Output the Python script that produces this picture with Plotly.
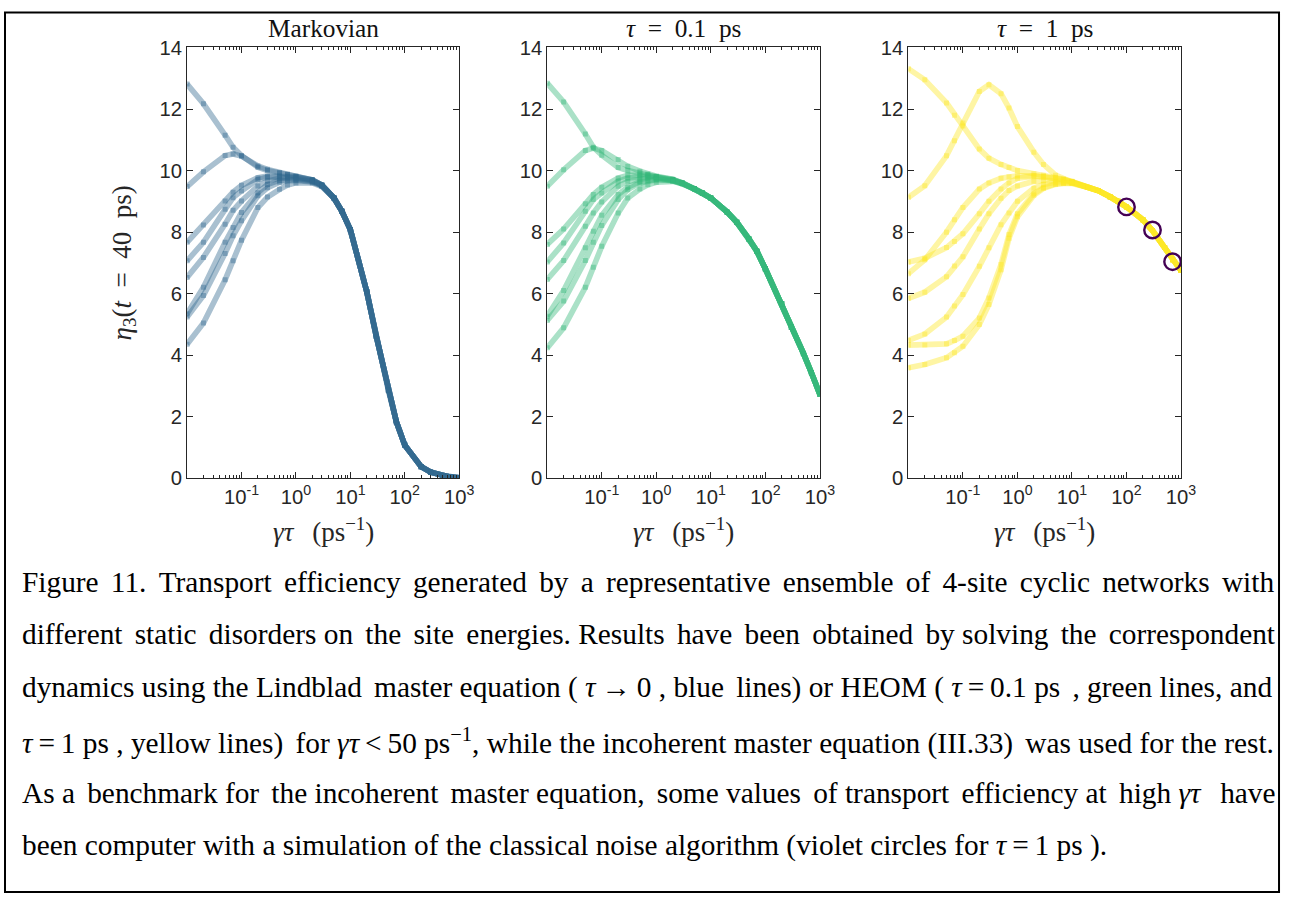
import plotly.graph_objects as go

# The captured picture maps page pixels (x, y) to (SX*x, BY + SY*y);
# positions below are given in picture pixels and converted with px_x / px_y.
SX, SY, BY = 0.988, 0.976, 10.5
PW, PH = 1296, 905

# ---------------- data ----------------
gamma_tau = [0.01, 0.02, 0.05, 0.07, 0.1, 0.2, 0.3, 0.5, 0.7, 1, 2, 3, 5, 7,
             10, 20, 30, 50, 70, 100, 200, 300, 500, 700, 1000]

# Markovian: individual parts for gamma*tau = 0.01 .. 3, shared part 5 .. 1000
markov_heads = [
    [12.81, 12.17, 11.15, 10.76, 10.49, 10.11, 10.00, 9.92, 9.87, 9.82, 9.70, 9.53],
    [9.48, 9.96, 10.49, 10.54, 10.47, 10.15, 10.04, 9.93, 9.88, 9.82, 9.70, 9.53],
    [7.67, 8.23, 9.01, 9.30, 9.52, 9.77, 9.82, 9.83, 9.82, 9.80, 9.70, 9.53],
    [7.07, 7.67, 8.74, 9.12, 9.34, 9.71, 9.79, 9.80, 9.79, 9.77, 9.68, 9.52],
    [6.53, 7.18, 8.26, 8.71, 9.01, 9.50, 9.66, 9.75, 9.76, 9.75, 9.67, 9.52],
    [5.35, 6.21, 7.67, 8.15, 8.64, 9.28, 9.55, 9.68, 9.71, 9.71, 9.65, 9.51],
    [5.24, 5.94, 7.31, 7.88, 8.37, 9.18, 9.44, 9.62, 9.67, 9.68, 9.63, 9.50],
    [4.36, 5.05, 6.45, 7.07, 7.74, 8.80, 9.14, 9.39, 9.53, 9.60, 9.60, 9.48],
]
markov_tail = [9.11, 8.68, 8.08, 6.07, 4.61, 2.87, 1.84, 1.08, 0.38, 0.20, 0.09, 0.04, 0.02]

# tau = 0.1 ps: individual parts for 0.01 .. 3, shared part 5 .. 1000
tau01_heads = [
    [12.84, 12.23, 11.19, 10.76, 10.50, 10.10, 10.00, 9.92, 9.87, 9.80, 9.71, 9.60],
    [9.49, 10.03, 10.65, 10.73, 10.65, 10.36, 10.14, 9.98, 9.89, 9.82, 9.72, 9.60],
    [7.60, 8.10, 8.92, 9.22, 9.46, 9.76, 9.85, 9.86, 9.84, 9.80, 9.71, 9.60],
    [7.03, 7.65, 8.68, 9.06, 9.27, 9.65, 9.76, 9.80, 9.80, 9.78, 9.70, 9.60],
    [6.46, 7.08, 8.19, 8.62, 8.98, 9.49, 9.65, 9.74, 9.76, 9.76, 9.69, 9.59],
    [5.27, 6.10, 7.49, 8.03, 8.55, 9.22, 9.46, 9.64, 9.70, 9.72, 9.68, 9.58],
    [5.13, 5.76, 7.08, 7.67, 8.22, 9.06, 9.38, 9.60, 9.67, 9.70, 9.67, 9.58],
    [4.24, 4.89, 6.21, 6.86, 7.54, 8.62, 9.11, 9.40, 9.54, 9.62, 9.65, 9.57],
]
tau01_tail = [9.41, 9.27, 9.11, 8.65, 8.32, 7.78, 7.38, 6.81, 5.67, 4.91, 4.06, 3.43, 2.73]

# tau = 1 ps: individual parts for 0.01 .. 10, shared part 20 .. 1000
tau1_heads = [
    [13.31, 12.95, 12.20, 11.80, 11.45, 10.70, 10.40, 10.20, 10.10, 10.00, 9.90, 9.85, 9.78, 9.72, 9.65],
    [9.13, 9.51, 10.48, 10.97, 11.55, 12.57, 12.79, 12.50, 12.03, 11.43, 10.60, 10.20, 9.85, 9.72, 9.63],
    [7.03, 7.15, 7.50, 7.70, 7.95, 8.60, 9.00, 9.40, 9.60, 9.75, 9.82, 9.80, 9.75, 9.70, 9.63],
    [6.65, 7.10, 8.00, 8.40, 8.80, 9.40, 9.60, 9.75, 9.80, 9.83, 9.83, 9.80, 9.75, 9.70, 9.63],
    [5.85, 6.05, 6.55, 6.90, 7.20, 8.10, 8.60, 9.10, 9.35, 9.50, 9.65, 9.68, 9.68, 9.66, 9.62],
    [4.48, 4.69, 5.24, 5.60, 5.97, 6.89, 7.49, 8.24, 8.62, 9.00, 9.43, 9.55, 9.62, 9.62, 9.60],
    [4.33, 4.33, 4.37, 4.48, 4.62, 5.21, 5.86, 6.95, 7.92, 8.60, 9.25, 9.45, 9.57, 9.60, 9.60],
    [3.59, 3.70, 3.92, 4.08, 4.29, 5.00, 5.65, 6.78, 7.80, 8.50, 9.20, 9.42, 9.55, 9.58, 9.58],
]
tau1_tail = [9.45, 9.35, 9.15, 9.00, 8.82, 8.40, 8.05, 7.50, 7.10, 6.75]

# classical noise benchmark (tau = 1 ps)
noise_x = [100, 300, 700]
noise_y = [8.82, 8.07, 7.04]

panel_titles = ["Markovian", "<i>τ</i>\u2002=\u20020.1\u2002ps", "<i>τ</i>\u2002=\u20021\u2002ps"]
x_title = "<i>γτ</i>\u2002\u2009(ps<sup>−1</sup>)"
y_title = "<i>η</i><sub>3</sub>(<i>t</i>\u2002=\u200240\u2002ps)"
x_tick_vals = [0.1, 1, 10, 100, 1000]
x_tick_text = ["10<sup>-1</sup>", "10<sup>0</sup>", "10<sup>1</sup>", "10<sup>2</sup>", "10<sup>3</sup>"]
y_tick_vals = [0, 2, 4, 6, 8, 10, 12, 14]

caption_lines = [
    "Figure 11. Transport efficiency generated by a representative ensemble of 4-site cyclic networks with",
    "different static disorders on the site energies. Results have been obtained by solving the correspondent",
    "dynamics using the Lindblad master equation ( <i>τ</i>\u2009→\u20090 , blue lines) or HEOM ( <i>τ</i>\u2009=\u20090.1 ps , green lines, and",
    "<i>τ</i>\u2009=\u20091 ps , yellow lines) for <i>γτ</i>\u2009&lt;\u200950 ps<sup>−1</sup>, while the incoherent master equation (III.33) was used for the rest.",
    "As a benchmark for the incoherent master equation, some values of transport efficiency at high <i>γτ</i>  have",
    "been computer with a simulation of the classical noise algorithm (violet circles for <i>τ</i>\u2009=\u20091 ps ).",
]
# extra justification units (six-per-em spaces) per caption line
caption_extra = [13, 11, 3, 2, 8, 0]

# ---------------- styling ----------------
colors = ["49,104,142", "53,183,121", "253,231,37"]
ALPHA = 0.42
AX = "#262626"
x_domains = [(187, 459), (547, 819.5), (908, 1180.5)]
y_px = (47, 478)
FS = 1 / SX  # font scale


def px_x(X):
    return (X / SX) / PW


def px_y(Y):
    return 1 - ((Y - BY) / SY) / PH


def justify(text, units):
    parts = text.split(" ")
    gaps = len(parts) - 1
    if units <= 0 or gaps <= 0:
        return text
    add = [0] * gaps
    for k in range(units):
        add[int((k + 0.5) * gaps / units) % gaps] += 1
    out = parts[0]
    for g in range(gaps):
        out += " " + "\u2006" * add[g] + parts[g + 1]
    return out


minor_vals = [m * 10 ** d for d in range(-2, 3) for m in range(2, 10)]

fig = go.Figure()

panels = [
    (markov_heads, markov_tail),
    (tau01_heads, tau01_tail),
    (tau1_heads, tau1_tail),
]

for i, (heads, tail) in enumerate(panels):
    xa = "x" if i == 0 else f"x{i+1}"
    ya = "y" if i == 0 else f"y{i+1}"
    rgba = f"rgba({colors[i]},{ALPHA})"
    for head in heads:
        fig.add_trace(go.Scatter(
            x=gamma_tau, y=head + tail, xaxis=xa, yaxis=ya,
            mode="lines+markers",
            line=dict(color=rgba, width=5.6),
            marker=dict(symbol="square", size=5, color=rgba, line=dict(width=0)),
            showlegend=False, hoverinfo="skip",
        ))

fig.add_trace(go.Scatter(
    x=noise_x, y=noise_y, xaxis="x3", yaxis="y3", mode="markers",
    marker=dict(symbol="circle-open", size=16.5, color="#440154",
                line=dict(width=2.4, color="#440154")),
    showlegend=False, hoverinfo="skip",
))

layout = dict(
    width=PW, height=PH,
    margin=dict(l=0, r=0, t=0, b=0),
    paper_bgcolor="white", plot_bgcolor="white",
    showlegend=False,
)

tick_font = dict(family="Liberation Sans, Arial, sans-serif", size=20 * FS, color=AX)
for i in range(3):
    xk = "xaxis" if i == 0 else f"xaxis{i+1}"
    yk = "yaxis" if i == 0 else f"yaxis{i+1}"
    ya = "y" if i == 0 else f"y{i+1}"
    xa = "x" if i == 0 else f"x{i+1}"
    layout[xk] = dict(
        type="log", range=[-2, 3], anchor=ya,
        domain=[px_x(x_domains[i][0]), px_x(x_domains[i][1])],
        tickvals=x_tick_vals, ticktext=x_tick_text,
        ticks="inside", ticklen=6, tickwidth=1, tickcolor=AX,
        showline=True, linecolor=AX, linewidth=1, mirror="allticks",
        showgrid=False, zeroline=False,
        minor=dict(ticks="inside", ticklen=3, tickwidth=1, tickcolor=AX,
                   tickvals=minor_vals, showgrid=False),
        tickfont=tick_font,
    )
    layout[yk] = dict(
        range=[0, 14], anchor=xa,
        domain=[px_y(y_px[1]), px_y(y_px[0])],
        tickvals=y_tick_vals,
        ticks="inside", ticklen=6, tickwidth=1, tickcolor=AX,
        showline=True, linecolor=AX, linewidth=1, mirror="allticks",
        showgrid=False, zeroline=False,
        tickfont=tick_font,
    )

fig.update_layout(**layout)

serif = "Liberation Serif, Times New Roman, serif"
annotations = []
title_sizes = [25, 25, 25]
for i in range(3):
    cx = (x_domains[i][0] + x_domains[i][1]) / 2
    annotations.append(dict(
        text=panel_titles[i], x=px_x(cx), y=px_y(28), xref="paper", yref="paper",
        xanchor="center", yanchor="middle", showarrow=False,
        font=dict(family=serif, size=title_sizes[i] * FS, color="#111111"),
    ))
    annotations.append(dict(
        text=x_title, x=px_x(cx), y=px_y(530), xref="paper", yref="paper",
        xanchor="center", yanchor="middle", showarrow=False,
        font=dict(family=serif, size=27, color="#262626"),
    ))

annotations.append(dict(
    text=y_title, x=px_x(124), y=px_y(263),
    xref="paper", yref="paper", xanchor="center", yanchor="middle",
    textangle=-90, showarrow=False,
    font=dict(family=serif, size=27, color="#262626"),
))

caption_y = [582, 634, 687, 741, 793, 845]
for line, extra, yy in zip(caption_lines, caption_extra, caption_y):
    annotations.append(dict(
        text=justify(line, extra), x=px_x(20), y=px_y(yy), xref="paper", yref="paper",
        xanchor="left", yanchor="middle", showarrow=False,
        font=dict(family=serif, size=29 * FS, color="black"),
    ))

fig.update_layout(annotations=annotations)

# outer frame, kept inside the visible page
fig.add_shape(type="rect", xref="paper", yref="paper",
              x0=px_x(5), x1=1 - 2 / PW, y0=2 / PH, y1=1 - 1.5 / PH,
              line=dict(color="black", width=2), fillcolor="rgba(0,0,0,0)")

fig.write_html(
    "out.html",
    config={"displayModeBar": False},
    post_script=(
        "document.body.style.margin='0';"
        "document.body.style.overflow='hidden';"
        "var d=document.getElementById('{plot_id}');"
        "d.style.position='fixed';d.style.left='0px';d.style.top='0px';"
    ),
)
